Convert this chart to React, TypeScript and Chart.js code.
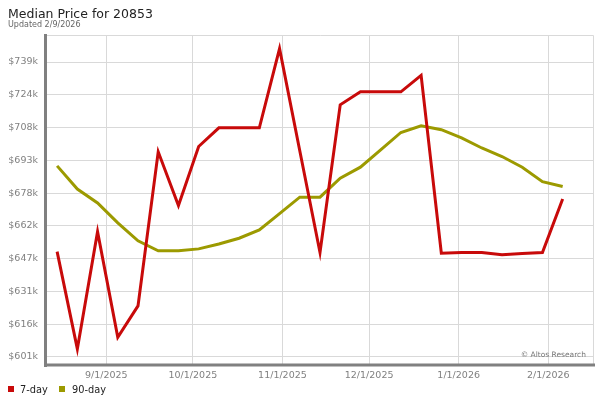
import React, { useEffect, useRef } from "react";
import { Chart, registerables } from "chart.js";

Chart.register(...registerables);

const dates = [
  "2025-08-15", "2025-08-22", "2025-08-29", "2025-09-05", "2025-09-12", "2025-09-19",
  "2025-09-26", "2025-10-03", "2025-10-10", "2025-10-17", "2025-10-24", "2025-10-31",
  "2025-11-07", "2025-11-14", "2025-11-21", "2025-11-28", "2025-12-05", "2025-12-12",
  "2025-12-19", "2025-12-26", "2026-01-02", "2026-01-09", "2026-01-16", "2026-01-23",
  "2026-01-30", "2026-02-06",
];

const sevenDay = [
  650100, 604400, 659500, 609900, 624600, 697000, 671800, 699500, 708300, 708300,
  708300, 745500, 697500, 649700, 719100, 725200, 725200, 725200, 732900, 649400,
  649700, 649700, 648700, 649200, 649700, 674800,
];

const ninetyDay = [
  690400, 679500, 673000, 663600, 655200, 650500, 650500, 651400, 653700, 656400,
  660300, 668000, 675700, 675700, 684600, 689800, 697900, 706100, 709200, 707400,
  703600, 698800, 694800, 689800, 683000, 680700,
];

const monthTickDates = ["2025-09-01", "2025-10-01", "2025-11-01", "2025-12-01", "2026-01-01", "2026-02-01"];
const monthTickLabels = ["9/1/2025", "10/1/2025", "11/1/2025", "12/1/2025", "1/1/2026", "2/1/2026"];

const yTickValues = [600600, 616000, 631400, 646800, 662200, 677600, 693000, 708400, 723800, 739200];
const yTickLabels = ["$601k", "$616k", "$631k", "$647k", "$662k", "$678k", "$693k", "$708k", "$724k", "$739k"];

const seriesNames = ["7-day", "90-day"];
const seriesColors = ["#c80a0a", "#9c9a00"];

const FONT = '"DejaVu Sans", Verdana, sans-serif';
const EPOCH = Date.parse("2025-09-01T00:00:00Z");
const toDay = (d: string) => (Date.parse(d + "T00:00:00Z") - EPOCH) / 86400000;

const decorPlugin = {
  id: "decor",
  beforeDatasetsDraw(chart: any) {
    const { ctx, chartArea } = chart;
    ctx.save();
    ctx.strokeStyle = "#d9d9d9";
    ctx.lineWidth = 1;
    ctx.beginPath();
    ctx.moveTo(chartArea.left, chartArea.top + 0.5);
    ctx.lineTo(chartArea.right + 0.5, chartArea.top + 0.5);
    ctx.lineTo(chartArea.right + 0.5, chartArea.bottom);
    ctx.stroke();
    ctx.fillStyle = "#808080";
    ctx.fillRect(44, 34, 3, 333);
    ctx.fillRect(44, 363.5, 551, 3);
    // watermark
    ctx.fillStyle = "#777777";
    ctx.font = "7.5px " + FONT;
    ctx.textAlign = "right";
    ctx.textBaseline = "alphabetic";
    ctx.fillText("\u00a9 Altos Research", 586, 357);
    ctx.restore();
  },
  afterDraw(chart: any) {
    const { ctx } = chart;
    ctx.save();
    ctx.textAlign = "left";
    ctx.textBaseline = "alphabetic";
    ctx.fillStyle = "#222222";
    ctx.font = "12.5px " + FONT;
    ctx.fillText("Median Price for 20853", 8, 17.5);
    ctx.fillStyle = "#666666";
    ctx.font = "8px " + FONT;
    ctx.fillText("Updated 2/9/2026", 8, 27);
    // legend
    ctx.font = "9.8px " + FONT;
    const items = [
      { x: 8, tx: 20 },
      { x: 59, tx: 72 },
    ];
    items.forEach((it, i) => {
      ctx.fillStyle = seriesColors[i];
      ctx.fillRect(it.x, 386, 6, 6);
      ctx.fillStyle = "#222222";
      ctx.fillText(seriesNames[i], it.tx, 392.5);
    });
    ctx.restore();
  },
};

export default function App() {
  const ref = useRef<HTMLCanvasElement | null>(null);

  useEffect(() => {
    if (!ref.current) return;
    const xs = dates.map(toDay);
    const monthDays = monthTickDates.map(toDay);
    const chart = new Chart(ref.current, {
      type: "line",
      data: {
        datasets: [
          {
            label: seriesNames[0],
            data: sevenDay.map((v, i) => ({ x: xs[i], y: v })),
            borderColor: seriesColors[0],
            backgroundColor: seriesColors[0],
            borderWidth: 3,
            pointRadius: 0,
            tension: 0,
            fill: false,
          },
          {
            label: seriesNames[1],
            data: ninetyDay.map((v, i) => ({ x: xs[i], y: v })),
            borderColor: seriesColors[1],
            backgroundColor: seriesColors[1],
            borderWidth: 3,
            pointRadius: 0,
            tension: 0,
            fill: false,
          },
        ],
      },
      options: {
        responsive: false,
        animation: false,
        layout: { padding: { top: 35, right: 7, left: 0, bottom: 0 } },
        plugins: {
          legend: { display: false },
          title: { display: false },
          tooltip: { enabled: false },
        },
        scales: {
          x: {
            type: "linear",
            min: -20.5,
            max: 168.5,
            afterFit(scale: any) {
              scale.height = 35.5;
            },
            afterBuildTicks(scale: any) {
              scale.ticks = monthDays.map((v) => ({ value: v }));
            },
            border: { display: false },
            grid: { color: "#d9d9d9", lineWidth: 1, drawTicks: false },
            ticks: {
              autoSkip: false,
              maxRotation: 0,
              padding: 5,
              color: "#808080",
              font: { family: FONT, size: 9.5 },
              callback: (_v: any, i: number) => monthTickLabels[i],
            },
          },
          y: {
            type: "linear",
            min: 597073,
            max: 751898,
            afterFit(scale: any) {
              scale.width = 47;
            },
            afterBuildTicks(scale: any) {
              scale.ticks = yTickValues.map((v) => ({ value: v }));
            },
            border: { display: false },
            grid: { color: "#d9d9d9", lineWidth: 1, drawTicks: false },
            ticks: {
              padding: 9,
              color: "#808080",
              font: { family: FONT, size: 9.5 },
              callback: (_v: any, i: number) => yTickLabels[i],
            },
          },
        },
      },
      plugins: [decorPlugin],
    });
    return () => chart.destroy();
  }, []);

  return (
    <div style={{ position: "absolute", left: 0, top: 0, width: 600, height: 400, background: "#fff" }}>
      <canvas ref={ref} width={600} height={400} style={{ display: "block" }} />
    </div>
  );
}
